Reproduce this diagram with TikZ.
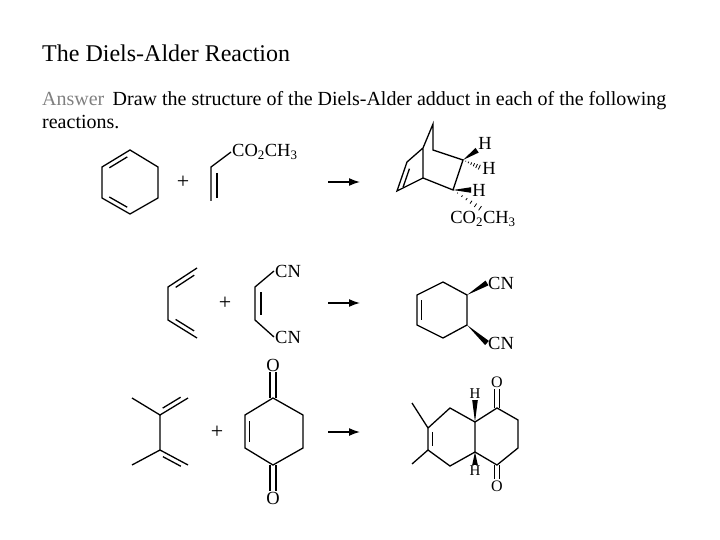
\documentclass[tikz,border=0pt]{standalone}
\usepackage{fontspec}
\setmainfont{Liberation Serif}
\usetikzlibrary{calc,arrows.meta}
\tikzstyle{bond}=[line width=1.3pt]
\tikzstyle{atom}=[font=\fontsize{18.5}{18.5}\selectfont,inner sep=1pt]
\tikzstyle{plus}=[font=\fontsize{22}{22}\selectfont]
\tikzstyle{react}=[line width=1.5pt,-{Latex[length=11pt,width=8pt]}]
% inner line of a double bond, on side #3 (90 or -90)
\newcommand{\innerbond}[3]{\draw[bond] ($(#1)!.18!(#2)!4.5pt!#3:(#2)$) -- ($(#2)!.18!(#1)!4.5pt!-#3:(#1)$);}
\newcommand{\wdg}[2]{\fill (#1) -- ($(#2)!2.8pt!90:(#1)$) -- ($(#2)!2.8pt!-90:(#1)$) -- cycle;}
\newcommand{\hsh}[2]{\foreach \t in {.15,.3,...,1}
  \draw[line width=.8pt] ($(#1)!\t!(#2)!\t*2.8pt!90:(#2)$) -- ($(#1)!\t!(#2)!\t*2.8pt!-90:(#2)$);}
\begin{document}
\begin{tikzpicture}[x=1pt,y=-1pt]
  \useasboundingbox (0,0) rectangle (720,540);
  % headings
  \node[anchor=base west,inner sep=0,font=\fontsize{24}{24}\selectfont] (title) at (42,62) {The Diels-Alder Reaction};
  \node[anchor=base west,inner sep=0,font=\fontsize{20}{20}\selectfont] (task) at (42,106)
    {\textcolor{gray}{Answer}\, Draw the structure of the Diels-Alder adduct in each of the following};
  \node[anchor=base west,inner sep=0,font=\fontsize{20}{20}\selectfont] (task2) at (42,129) {reactions.};

  % first reaction: cyclohexadiene
  \foreach \x/\y/\name in {130/150/h1, 158/167/h2, 158/198/h3, 130/214/h4, 102/198/h5, 102/167/h6}
    \coordinate (\name) at (\x,\y);
  \draw[bond] (h1) -- (h2) -- (h3) -- (h4) -- (h5) -- (h6) -- cycle;
  \innerbond{h6}{h1}{-90}
  \innerbond{h4}{h5}{-90}
  \node[plus] (p1) at (183,182) {+};
  % methyl acrylate
  \coordinate (a1) at (211,201);
  \coordinate (a2) at (211,167);
  \node[atom,anchor=west] (ester) at (231,152) {CO\textsubscript{2}CH\textsubscript{3}};
  \draw[bond] (a1) -- (a2) -- (ester.west);
  \draw[bond] (217,173) -- (217,198);
  \coordinate (r1) at (328,182);
  \coordinate (r1e) at (360,182);
  \draw[react] (r1) -- (r1e);
  % bicyclooctene
  \foreach \x/\y/\name in {433/124/b1, 433/150/b2, 423/148/b3, 423/178/b4, 407/162/b5, 397/191/b6, 463/160/b7, 453/190/b8}
    \coordinate (\name) at (\x,\y);
  \draw[bond] (b3) -- (b1) -- (b2) -- (b7) -- (b8) -- (b4) -- (b3) -- (b5) -- (b6) -- (b4);
  \innerbond{b5}{b6}{90}
  \node[atom] (hA) at (485,143) {H};
  \node[atom] (hB) at (489,168) {H};
  \node[atom] (hC) at (479,190) {H};
  \node[atom] (ester2) at (483,219) {CO\textsubscript{2}CH\textsubscript{3}};
  \wdg{b7}{hA.south west}
  \hsh{b7}{hB.west}
  \wdg{b8}{hC.west}
  \hsh{b8}{ester2.north}

  % second reaction: butadiene
  \foreach \x/\y/\name in {197/268/d1, 168/287/d2, 168/320/d3, 197/338/d4}
    \coordinate (\name) at (\x,\y);
  \draw[bond] (d1) -- (d2) -- (d3) -- (d4);
  \innerbond{d1}{d2}{90}
  \innerbond{d3}{d4}{90}
  \node[plus] (p2) at (225,303) {+};
  % maleonitrile
  \coordinate (m1) at (255,287);
  \coordinate (m2) at (255,320);
  \node[atom,anchor=west] (cn1) at (274,271) {CN};
  \node[atom,anchor=west] (cn2) at (274,337) {CN};
  \draw[bond] (cn1.west) -- (m1) -- (m2) -- (cn2.west);
  \draw[bond] (261,292) -- (261,315);
  \coordinate (r2) at (328,303);
  \coordinate (r2e) at (360,303);
  \draw[react] (r2) -- (r2e);
  % cyclohexene dinitrile
  \foreach \x/\y/\name in {443/282/c1, 467/295/c2, 467/325/c3, 443/338/c4, 417/325/c5, 417/295/c6}
    \coordinate (\name) at (\x,\y);
  \draw[bond] (c1) -- (c2) -- (c3) -- (c4) -- (c5) -- (c6) -- cycle;
  \innerbond{c5}{c6}{-90}
  \node[atom,anchor=west] (cn3) at (487,283) {CN};
  \node[atom,anchor=west] (cn4) at (487,343) {CN};
  \wdg{c2}{cn3.west}
  \wdg{c3}{cn4.west}

  % third reaction: dimethylbutadiene
  \foreach \x/\y/\name in {132/398/e1, 160/415/e2, 188/398/e3, 160/450/e4, 132/465/e5, 188/465/e6}
    \coordinate (\name) at (\x,\y);
  \draw[bond] (e1) -- (e2) -- (e3);
  \draw[bond] (e2) -- (e4) -- (e5);
  \draw[bond] (e4) -- (e6);
  \innerbond{e2}{e3}{90}
  \innerbond{e4}{e6}{-90}
  \node[plus] (p3) at (217,432) {+};
  % benzoquinone
  \foreach \x/\y/\name in {273/398/q1, 303/415/q2, 303/448/q3, 273/465/q4, 245/448/q5, 245/415/q6}
    \coordinate (\name) at (\x,\y);
  \draw[bond] (q1) -- (q2) -- (q3) -- (q4) -- (q5) -- (q6) -- cycle;
  \innerbond{q5}{q6}{-90}
  \node[atom] (o1) at (273,365) {O};
  \node[atom] (o2) at (273,498) {O};
  \draw[bond] ($(q1)+(-3,0)$) -- ($(o1.south)+(-3,0)$);
  \draw[bond] ($(q1)+(3,0)$) -- ($(o1.south)+(3,0)$);
  \draw[bond] ($(q4)+(-3,0)$) -- ($(o2.north)+(-3,0)$);
  \draw[bond] ($(q4)+(3,0)$) -- ($(o2.north)+(3,0)$);
  \coordinate (r3) at (328,432);
  \coordinate (r3e) at (360,432);
  \draw[react] (r3) -- (r3e);
  % octahydronaphthalenedione
  \foreach \x/\y/\name in {428/428/f1, 450/408/f2, 475/422/f3, 475/452/f4, 450/466/f5, 428/450/f6,
      497/408/f7, 518/420/f8, 518/448/f9, 497/465/f10, 412/403/f11, 412/464/f12}
    \coordinate (\name) at (\x,\y);
  \draw[bond] (f1) -- (f2) -- (f3) -- (f4) -- (f5) -- (f6) -- cycle;
  \draw[bond] (f3) -- (f7) -- (f8) -- (f9) -- (f10) -- (f4);
  \draw[bond] (f1) -- (f11);
  \draw[bond] (f6) -- (f12);
  \innerbond{f1}{f6}{90}
  \node[atom,font=\fontsize{16}{16}\selectfont] (o3) at (497,382) {O};
  \node[atom,font=\fontsize{16}{16}\selectfont] (o4) at (497,486) {O};
  \draw[bond] ($(f7)+(-2.5,0)$) -- ($(o3.south)+(-2.5,0)$);
  \draw[bond] ($(f7)+(2.5,0)$) -- ($(o3.south)+(2.5,0)$);
  \draw[bond] ($(f10)+(-2.5,0)$) -- ($(o4.north)+(-2.5,0)$);
  \draw[bond] ($(f10)+(2.5,0)$) -- ($(o4.north)+(2.5,0)$);
  \node[atom,font=\fontsize{15}{15}\selectfont] (hD) at (475,394) {H};
  \node[atom,font=\fontsize{15}{15}\selectfont] (hE) at (475,471) {H};
  \wdg{f3}{hD.south}
  \wdg{f4}{hE.north}
\end{tikzpicture}
\end{document}
